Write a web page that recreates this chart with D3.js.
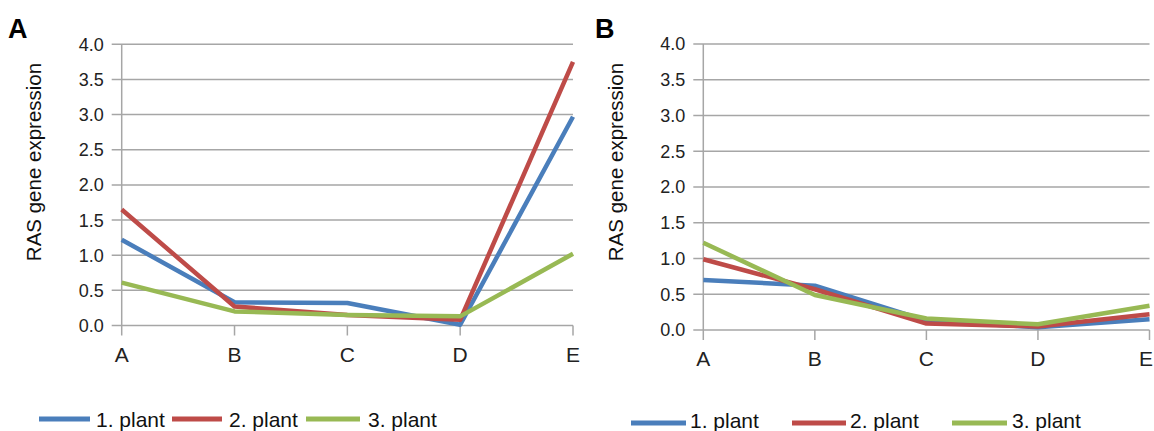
<!DOCTYPE html>
<html><head><meta charset="utf-8">
<script src="https://cdn.jsdelivr.net/npm/d3@7"></script>
<style>body{margin:0;background:#fff;} svg{display:block;}</style>
</head><body>
<svg id="c" width="1154" height="431"></svg>
<script>
const categories = ["A","B","C","D","E"];
const yTicks = [0,0.5,1,1.5,2,2.5,3,3.5,4];
const seriesNames = ["1. plant","2. plant","3. plant"];
const seriesColors = ["#4a7ebb","#be4b48","#98b954"];
// Panel A
const panelA_plant1 = [1.22,0.33,0.32,0.01,2.97];
const panelA_plant2 = [1.65,0.27,0.15,0.08,3.75];
const panelA_plant3 = [0.61,0.20,0.15,0.13,1.02];
// Panel B
const panelB_plant1 = [0.70,0.62,0.13,0.04,0.15];
const panelB_plant2 = [0.99,0.57,0.09,0.05,0.22];
const panelB_plant3 = [1.22,0.49,0.16,0.08,0.34];

const panels = [
  {label:"A", data:[panelA_plant1,panelA_plant2,panelA_plant3], x0:121.7, x1:573, yTop:44.3, yBot:325.5,
   labelPos:[8,38], titleX:34, titleY:162, legY:419, legBase:427,
   leg:[[39,90,96],[172,222,229],[306,360,368]]},
  {label:"B", data:[panelB_plant1,panelB_plant2,panelB_plant3], x0:703.3, x1:1149.5, yTop:44, yBot:330,
   labelPos:[595,38], titleX:616, titleY:162, legY:423, legBase:428,
   leg:[[631,686,690],[792,846,850],[952,1007,1012]]}
];

const svg = d3.select("#c");
const font = "'Liberation Sans', Arial, sans-serif";
const W = 1154;

panels.forEach(p => {
  const g = svg.append("g");
  const x = d3.scalePoint().domain(categories).range([p.x0, p.x1]);
  const y = d3.scaleLinear().domain([0,4]).range([p.yBot, p.yTop]);

  g.append("g").selectAll("line").data(yTicks).join("line")
    .attr("x1", p.x0 - 10).attr("x2", p.x1)
    .attr("y1", d => y(d)).attr("y2", d => y(d))
    .attr("stroke", "#a6a6a6").attr("stroke-width", 1.5);
  g.append("line").attr("x1", p.x0).attr("x2", p.x0).attr("y1", y(4)).attr("y2", y(0))
    .attr("stroke", "#a6a6a6").attr("stroke-width", 1.5);
  g.append("g").selectAll("line").data(categories).join("line")
    .attr("x1", d => x(d)).attr("x2", d => x(d))
    .attr("y1", y(0)).attr("y2", y(0) + 10)
    .attr("stroke", "#a6a6a6").attr("stroke-width", 1.5);
  g.append("g").selectAll("text").data(yTicks).join("text")
    .attr("x", p.x0 - 18).attr("y", d => y(d)).attr("dy", "0.36em")
    .attr("text-anchor", "end").attr("font-family", font).attr("font-size", 18)
    .attr("fill", "#222").text(d => d.toFixed(1));
  // x labels (kept inside the canvas)
  g.append("g").selectAll("text").data(categories).join("text")
    .attr("x", d => x(d)).attr("y", y(0) + 36)
    .attr("text-anchor", "middle").attr("font-family", font).attr("font-size", 21)
    .attr("fill", "#222").text(d => d)
    .each(function(){
      const bb = this.getBBox();
      if (bb.x + bb.width > W - 1) {
        d3.select(this).attr("text-anchor", "end").attr("x", W - 1);
      }
    });
  g.append("text").attr("transform", `translate(${p.titleX},${p.titleY}) rotate(-90)`)
    .attr("text-anchor", "middle").attr("dy", "0.35em")
    .attr("font-family", font).attr("font-size", 20.5).attr("fill", "#111")
    .text("RAS gene expression");
  g.append("text").attr("x", p.labelPos[0]).attr("y", p.labelPos[1])
    .attr("font-family", font).attr("font-weight", "bold").attr("font-size", 27)
    .attr("fill", "#000").text(p.label);
  const line = d3.line().x((d,i) => x(categories[i])).y(d => y(d));
  p.data.forEach((s, si) => {
    g.append("path").datum(s).attr("d", line)
      .attr("fill", "none").attr("stroke", seriesColors[si]).attr("stroke-width", 4.5)
      .attr("stroke-linejoin", "round");
  });
  seriesNames.forEach((n, si) => {
    const L = p.leg[si];
    g.append("line").attr("x1", L[0]).attr("x2", L[1]).attr("y1", p.legY).attr("y2", p.legY)
      .attr("stroke", seriesColors[si]).attr("stroke-width", 5);
    g.append("text").attr("x", L[2]).attr("y", p.legBase)
      .attr("font-family", font).attr("font-size", 21).attr("fill", "#111").text(n);
  });
});
</script>
</body></html>
